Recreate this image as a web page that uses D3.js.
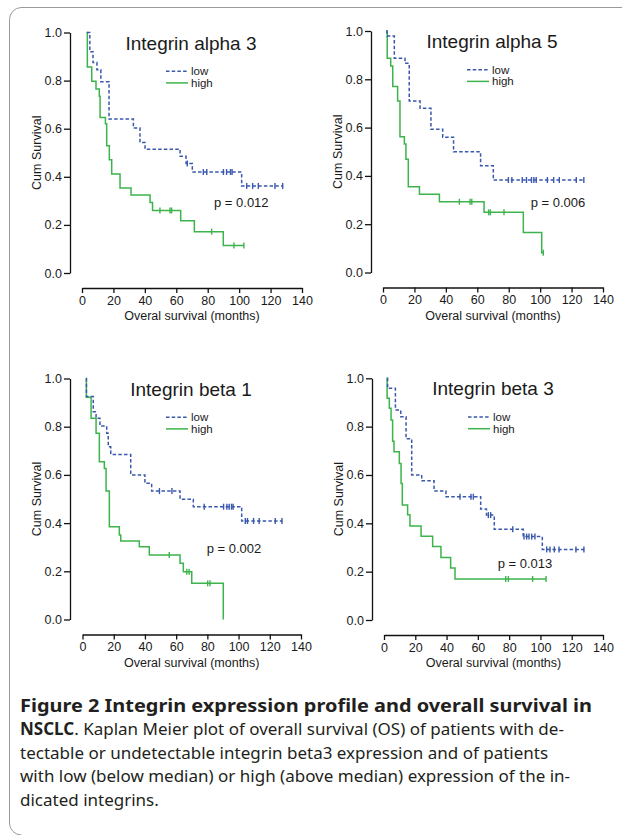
<!DOCTYPE html>
<html>
<head>
<meta charset="utf-8">
<script src="https://cdn.jsdelivr.net/npm/d3@7"></script>
<style>
  body { margin: 0; background: #fff; }
  svg { display: block; }
  .axis text { font-family: "Liberation Sans", Arial, sans-serif; font-size: 12.5px; fill: #1a1a1a; }
  .axis path, .axis line { stroke: #111; stroke-width: 1.3; }
  .lbl { font-family: "Liberation Sans", Arial, sans-serif; fill: #1a1a1a; }
  .caption { font-family: "Noto Sans", "Open Sans", sans-serif; font-size: 17px; fill: #231f20; }
</style>
</head>
<body>
<svg id="chart" width="626" height="835"></svg>
<script>
// ---- values: [months, cum survival] where each step lands ----
const panelTitles = ["Integrin alpha 3", "Integrin alpha 5", "Integrin beta 1", "Integrin beta 3"];
const pValues = ["p = 0.012", "p = 0.006", "p = 0.002", "p = 0.013"];
const seriesNames = ["low", "high"];
const xTicks = [0, 20, 40, 60, 80, 100, 120, 140];
const yTicks = [0.0, 0.2, 0.4, 0.6, 0.8, 1.0];

const a3Low = [[3, 1], [5, 0.92], [7, 0.875], [9.5, 0.845], [12, 0.795], [17.2, 0.64], [32.7, 0.603], [36.9, 0.543],
  [40.1, 0.515], [62.4, 0.485], [66.2, 0.455], [70.2, 0.42], [101.6, 0.362], [128, 0.362]];
const a3LowCens = [67, 77.2, 79.4, 90, 92, 94.5, 95.5, 104.8, 108.6, 112.2, 122.8, 127.7];
const a3High = [[3, 1], [3.4, 0.857], [6.2, 0.797], [8.9, 0.765], [11, 0.735], [11.5, 0.647], [14.9, 0.621], [15.7, 0.529],
  [17.4, 0.471], [18.9, 0.412], [24.2, 0.353], [31.2, 0.324], [43.3, 0.293], [44.9, 0.26], [62.8, 0.217], [71.5, 0.172],
  [89.9, 0.114], [103, 0.114]];
const a3HighCens = [49.6, 56, 57, 82.5, 96.7, 103];

const a5Low = [[2, 1], [2.5, 0.979], [7.2, 0.887], [14, 0.866], [16.7, 0.71], [23.6, 0.68], [30.5, 0.593], [38, 0.56],
  [44.9, 0.5], [62.1, 0.442], [70.2, 0.383], [128, 0.383]];
const a5LowCens = [79.8, 82, 88.6, 91.3, 94.5, 96, 97.5, 104.6, 108.6, 112.2, 123, 127.8];
const a5High = [[2, 1], [2.7, 0.887], [4.9, 0.855], [6.2, 0.77], [9.3, 0.71], [10.8, 0.562], [13.6, 0.532], [14.6, 0.469],
  [16.1, 0.355], [23.2, 0.324], [35.9, 0.293], [64.3, 0.249], [89.3, 0.166], [101, 0.082], [102, 0.082]];
const a5HighCens = [48.6, 55.4, 56.5, 67.2, 68.3, 77, 102];

const b1Low = [[2.2, 1], [2.5, 0.925], [6.9, 0.862], [8.7, 0.835], [11.2, 0.803], [15.5, 0.773], [16.5, 0.717], [18.1, 0.685],
  [30.9, 0.6], [40, 0.565], [44.3, 0.533], [62.5, 0.499], [71, 0.468], [102, 0.409], [128, 0.409]];
const b1LowCens = [49.3, 57.3, 78, 90.4, 92.5, 94, 95.5, 96.5, 104.3, 105.7, 109.6, 113.2, 123.5, 127.8];
const b1High = [[2.2, 1], [2.5, 0.922], [5.5, 0.835], [8.7, 0.773], [10.8, 0.655], [14, 0.627], [15.1, 0.533], [17.2, 0.385],
  [23.6, 0.351], [24.5, 0.326], [36.4, 0.302], [42.8, 0.268], [62.5, 0.233], [64.6, 0.198], [70, 0.15], [90.2, 0]];
const b1HighCens = [55.6, 66.8, 68.3, 80.2, 81.7];

const b3Low = [[2.1, 1], [2.3, 0.959], [7.3, 0.869], [10.7, 0.841], [14.1, 0.75], [17.7, 0.6], [24.1, 0.576], [32, 0.534],
  [39.6, 0.51], [61.8, 0.459], [65.5, 0.434], [70.5, 0.375], [89, 0.345], [101.2, 0.292], [128, 0.292]];
const b3LowCens = [48.6, 55.6, 57.1, 66.7, 68.2, 82.3, 89.5, 91.2, 92.7, 94.4, 96.5, 104, 106.1, 108.9, 111.9, 122.7, 127.8];
const b3High = [[1.5, 1], [2, 0.917], [3.4, 0.876], [4.5, 0.827], [5.5, 0.74], [6.4, 0.696], [9.8, 0.648], [10.9, 0.565],
  [11.7, 0.476], [15.1, 0.435], [16.6, 0.389], [23.7, 0.347], [31.1, 0.304], [36.4, 0.259], [42.6, 0.215], [45.4, 0.17],
  [103.6, 0.17]];
const b3HighCens = [77.8, 79.5, 95, 103.6];

// where the p label sits, in months / survival units
const pLabelAt = [[84, 0.274], [94, 0.27], [79.6, 0.277], [72.7, 0.214]];

const captionLines = [
  [["Figure 2 Integrin expression profile and overall survival in", true]],
  [["NSCLC", true], [". Kaplan Meier plot of overall survival (OS) of patients with de-", false]],
  [["tectable or undetectable integrin beta3 expression and of patients", false]],
  [["with low (below median) or high (above median) expression of the in-", false]],
  [["dicated integrins.", false]]
];

class SurvivalFigure {
  /* ===================================
   *  CONSTRUCTOR
   * =================================== */
  constructor() {
    this.svg = d3.select("#chart");
    this.colors = { low: "#3a58ad", high: "#3cb44b" };
    // measured plot boxes (y axis x, x range, y range)
    this.boxes = [
      { axisX: 70, x0: 82, x1: 302, top: 32.5, bottom: 273 },
      { axisX: 371, x0: 383, x1: 603, top: 31, bottom: 272.5 },
      { axisX: 70, x0: 82.5, x1: 301, top: 378.5, bottom: 619.5 },
      { axisX: 372, x0: 384, x1: 603, top: 378.3, bottom: 620 }
    ];
    this.series = [
      { low: a3Low, lowC: a3LowCens, high: a3High, highC: a3HighCens },
      { low: a5Low, lowC: a5LowCens, high: a5High, highC: a5HighCens },
      { low: b1Low, lowC: b1LowCens, high: b1High, highC: b1HighCens },
      { low: b3Low, lowC: b3LowCens, high: b3High, highC: b3HighCens }
    ];
    this.draw();
  }

  /* ===================================
   *  METHODS
   * =================================== */
  draw() {
    this.DrawFrame();
    this.boxes.forEach((box, i) => this.DrawPanel(box, i));
    this.DrawCaption();
  }

  DrawFrame() {
    this.svg.append("path")
      .attr("d", "M622,7.5 H21 A12,12 0 0 0 9.5,19.5 V823 A12,12 0 0 0 21.5,835")
      .attr("fill", "none")
      .attr("stroke", "#9a9a9a")
      .attr("stroke-width", 1);
  }

  survivalAt(steps, t) {
    let s = steps[0][1];
    steps.forEach((d) => { if (d[0] <= t) s = d[1]; });
    return s;
  }

  DrawPanel(box, i) {
    var x = d3.scaleLinear().domain([0, 140]).range([box.x0, box.x1]);
    var y = d3.scaleLinear().domain([0, 1]).range([box.bottom, box.top]);
    var g = this.svg.append("g");

    g.append("g")
      .attr("class", "axis")
      .attr("transform", `translate(${box.axisX},0)`)
      .call(d3.axisLeft(y).tickValues(yTicks).tickFormat(d3.format(".1f")).tickSize(6).tickSizeOuter(0).tickPadding(2));

    g.append("g")
      .attr("class", "axis")
      .attr("transform", `translate(0,${box.bottom + 15})`)
      .call(d3.axisBottom(x).tickValues(xTicks).tickSize(5).tickSizeOuter(0).tickPadding(3));

    g.append("text")
      .attr("class", "lbl")
      .attr("transform", `translate(${box.axisX - 29},${(box.top + box.bottom) / 2}) rotate(-90)`)
      .attr("text-anchor", "middle")
      .style("font-size", "12.5px")
      .text("Cum Survival");

    g.append("text")
      .attr("class", "lbl")
      .attr("x", (box.x0 + box.x1) / 2)
      .attr("y", box.bottom + 47)
      .attr("text-anchor", "middle")
      .style("font-size", "12.5px")
      .text("Overal survival (months)");

    g.append("text")
      .attr("class", "lbl")
      .attr("x", box.axisX + 121)
      .attr("y", box.top + 17)
      .attr("text-anchor", "middle")
      .style("font-size", "19px")
      .text(panelTitles[i]);

    // legend
    seriesNames.forEach((name, k) => {
      var ly = box.top + 38.7 + k * 11.7;
      g.append("line")
        .attr("x1", box.axisX + 96).attr("x2", box.axisX + 118)
        .attr("y1", ly).attr("y2", ly)
        .attr("stroke", this.colors[name])
        .attr("stroke-width", 1.5)
        .attr("stroke-dasharray", name === "low" ? "3.5,2.2" : null);
      g.append("text")
        .attr("class", "lbl")
        .attr("x", box.axisX + 121)
        .attr("y", ly + 4)
        .style("font-size", "11.5px")
        .text(name);
    });

    g.append("text")
      .attr("class", "lbl")
      .attr("x", x(pLabelAt[i][0]))
      .attr("y", y(pLabelAt[i][1]))
      .style("font-size", "13px")
      .text(pValues[i]);

    var line = d3.line()
      .x((d) => x(d[0]))
      .y((d) => y(d[1]))
      .curve(d3.curveStepAfter);

    var s = this.series[i];
    [["high", s.high, s.highC], ["low", s.low, s.lowC]].forEach(([name, steps, cens]) => {
      g.append("path")
        .datum(steps)
        .attr("d", line)
        .attr("fill", "none")
        .attr("stroke", this.colors[name])
        .attr("stroke-width", 1.5)
        .attr("stroke-dasharray", name === "low" ? "3.5,2.2" : null);

      g.selectAll(null)
        .data(cens)
        .enter()
        .append("line")
        .attr("x1", (t) => x(t)).attr("x2", (t) => x(t))
        .attr("y1", (t) => y(this.survivalAt(steps, t)) - 3)
        .attr("y2", (t) => y(this.survivalAt(steps, t)) + 3)
        .attr("stroke", this.colors[name])
        .attr("stroke-width", 1.4);
    });
  }

  DrawCaption() {
    captionLines.forEach((parts, k) => {
      var text = this.svg.append("text")
        .attr("class", "caption")
        .attr("x", 20)
        .attr("y", 712 + k * 23.4);
      // the first line is set in a wider bold face in the original
      if (k === 0) text.attr("textLength", 572).attr("lengthAdjust", "spacingAndGlyphs");
      parts.forEach(([str, bold]) => {
        var span = text.append("tspan").text(str);
        if (bold) span.style("font-weight", "bold");
      });
    });
  }
}

new SurvivalFigure();
</script>
</body>
</html>
